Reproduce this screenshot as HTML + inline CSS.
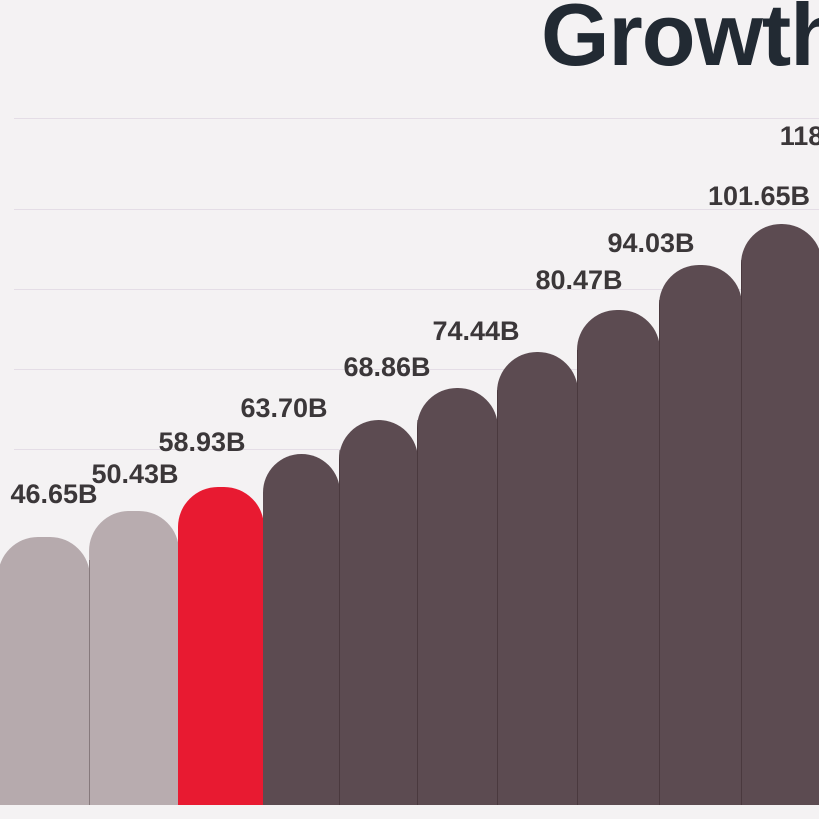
<!DOCTYPE html>
<html><head><meta charset="utf-8"><style>
html,body{margin:0;padding:0;overflow:hidden;}
body{width:819px;height:819px;background:#f4f2f3;position:relative;font-family:"Liberation Sans",sans-serif;}
#c{position:absolute;left:0;top:0;width:819px;height:819px;overflow:hidden;}
.g{position:absolute;left:14px;right:0;height:1px;background:#e4dde6;}
.b{position:absolute;bottom:14px;border-radius:40px 40px 0 0;}
.s{position:absolute;bottom:14px;width:1px;background:rgba(40,25,30,0.35);}
.l{position:absolute;font-size:27px;color:#3b3739;white-space:nowrap;transform:translateX(-50%);font-weight:bold;}
</style></head><body><div id="c">
<div style="position:absolute;left:541px;top:-16px;font-size:88px;font-weight:bold;color:#222a33;letter-spacing:-1px;white-space:nowrap">Growth</div>
<div class="g" style="top:118px"></div>
<div class="g" style="top:209px"></div>
<div class="g" style="top:289px"></div>
<div class="g" style="top:369px"></div>
<div class="g" style="top:449px"></div>
<div class="b" style="left:-2px;width:92px;top:537px;background:#b6aaad"></div>
<div class="b" style="left:89px;width:90px;top:511px;background:#b8acaf"></div>
<div class="b" style="left:178px;width:86px;top:487px;background:#e81a31"></div>
<div class="b" style="left:263px;width:77px;top:454px;background:#5c4b51"></div>
<div class="b" style="left:339px;width:79px;top:420px;background:#5c4b51"></div>
<div class="b" style="left:417px;width:81px;top:388px;background:#5c4b51"></div>
<div class="b" style="left:497px;width:81px;top:352px;background:#5c4b51"></div>
<div class="b" style="left:577px;width:83px;top:310px;background:#5c4b51"></div>
<div class="b" style="left:659px;width:83px;top:265px;background:#5c4b51"></div>
<div class="b" style="left:741px;width:81px;top:224px;background:#5c4b51"></div>
<div class="s" style="left:89px;top:560px"></div>
<div class="s" style="left:339px;top:450px"></div>
<div class="s" style="left:417px;top:420px"></div>
<div class="s" style="left:497px;top:390px"></div>
<div class="s" style="left:577px;top:350px"></div>
<div class="s" style="left:659px;top:300px"></div>
<div class="s" style="left:741px;top:260px"></div>
<div style="position:absolute;left:0;right:0;top:805px;height:14px;background:#f4f2f3"></div>
<div class="l" style="left:54px;top:479px">46.65B</div>
<div class="l" style="left:135px;top:459px">50.43B</div>
<div class="l" style="left:202px;top:427px">58.93B</div>
<div class="l" style="left:284px;top:393px">63.70B</div>
<div class="l" style="left:387px;top:352px">68.86B</div>
<div class="l" style="left:476px;top:316px">74.44B</div>
<div class="l" style="left:579px;top:265px">80.47B</div>
<div class="l" style="left:651px;top:228px">94.03B</div>
<div class="l" style="left:759px;top:181px">101.65B</div>
<div class="l" style="left:830px;top:121px">118.00B</div>
</div></body></html>
